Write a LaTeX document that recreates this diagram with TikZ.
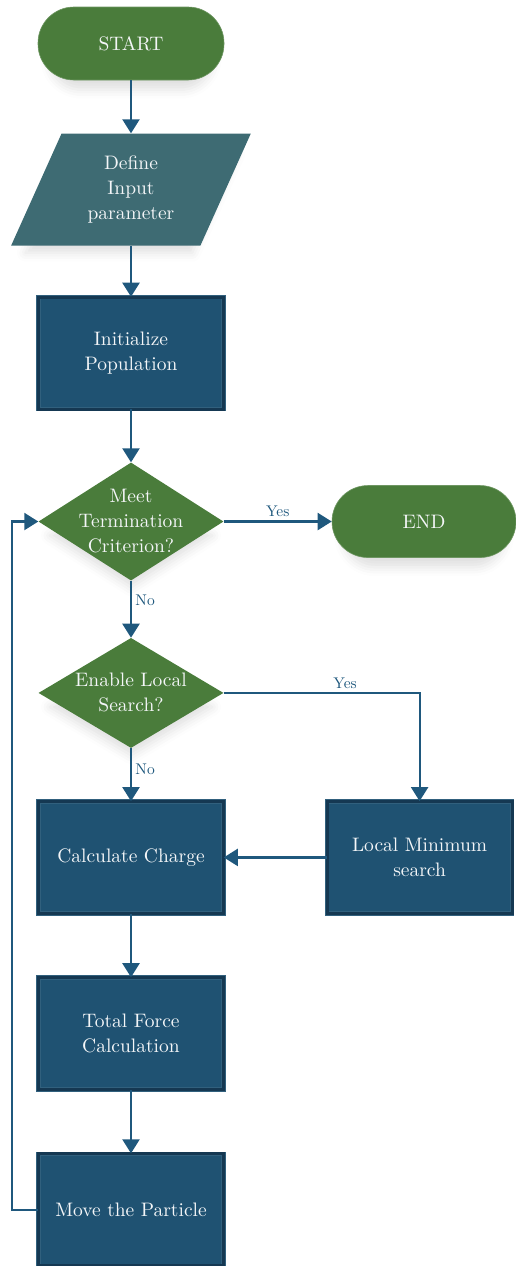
\documentclass[tikz,border=0pt]{standalone}
\usepackage{xcolor}
\usepackage{fontspec}
\usepackage{tikz}
\usetikzlibrary{arrows.meta,positioning,shapes.geometric,shadows.blur}

\newfontfamily\boxfont{lmroman10-regular}[Extension=.otf]

\definecolor{termgreen}{RGB}{74,124,59}
\definecolor{inpteal}{RGB}{62,107,115}
\definecolor{procblue}{RGB}{31,82,114}
\definecolor{procdark}{RGB}{21,56,82}
\definecolor{flowblue}{RGB}{31,88,125}
\definecolor{textwhite}{RGB}{244,246,248}

\begin{document}
\begin{tikzpicture}[
    x=1pt, y=1pt,
    every node/.style={text=textwhite, align=center,
      font=\boxfont\fontsize{19.5}{25}\selectfont},
    soft/.style={blur shadow={shadow xshift=0pt, shadow yshift=-16pt,
      shadow opacity=12, shadow blur radius=10pt, shadow scale=0.88}},
    term/.style={rectangle, rounded corners=36pt, fill=termgreen,
      draw=termgreen!80!white, line width=0.6pt,
      minimum width=186pt, minimum height=73pt, soft},
    io/.style={trapezium, trapezium left angle=65, trapezium right angle=115,
      trapezium stretches=true, fill=inpteal, inner sep=0pt,
      minimum width=240pt, minimum height=112pt, soft},
    proc/.style={rectangle, fill=procblue, draw=procblue!92!white,
      double=procdark, double distance=3pt, line width=0.6pt,
      minimum width=185pt, minimum height=112pt},
    decis/.style={diamond, fill=termgreen, inner sep=0pt,
      minimum width=185pt, minimum height=118pt, soft},
    arr/.style={-{Triangle[length=14pt, width=17pt]}, line width=2.2pt, flowblue},
    lbl/.style={font=\boxfont\fontsize{15.5}{17}\selectfont, text=flowblue}
]
\useasboundingbox (0,0) rectangle (515,-1266);

% --- Main column ---
\node[term] (start) at (131,-43.5) {START};
\node[io, below=53pt of start] (inp) {Define\\Input\\parameter};
\node[proc, below=51pt of inp] (init) {Initialize\\Population};
\node[decis, below=53pt of init,
      label={center:Meet\\Termination\\Criterion?}] (crit) {};
\node[decis, minimum height=110pt, below=57pt of crit,
      label={center:Enable Local\\Search?}] (local) {};
\node[proc, below=53pt of local] (calc) {Calculate Charge};
\node[proc, below=63.5pt of calc] (force) {Total Force\\Calculation};
\node[proc, below=63.5pt of force] (move) {Move the Particle};

% --- Side nodes ---
\node[term, minimum width=184pt, minimum height=72pt,
      right=108pt of crit] (stop) {END};
\node[proc, right=103pt of calc] (lms) {Local Minimum\\search};

% --- Connections ---
\draw[arr] (start.south) -- (inp.north);
\draw[arr] (inp.south) -- (init.north);
\draw[arr] (init.south) -- (crit.north);
\draw[arr] (crit.east) -- (stop.west)
      node[midway, above, lbl] {Yes};
\draw[arr] (crit.south) -- (local.north)
      node[pos=0.35, right, lbl] {No};
\draw[arr] (local.east) -| (lms.north)
      node[pos=0.31, above, lbl] {Yes};
\draw[arr] (local.south) -- (calc.north)
      node[pos=0.4, right, lbl] {No};
\draw[arr] (lms.west) -- (calc.east);
\draw[arr] (calc.south) -- (force.north);
\draw[arr] (force.south) -- (move.north);
\draw[arr] (move.west) -- ++(-26pt,0) |- (crit.west);
\end{tikzpicture}
\end{document}
